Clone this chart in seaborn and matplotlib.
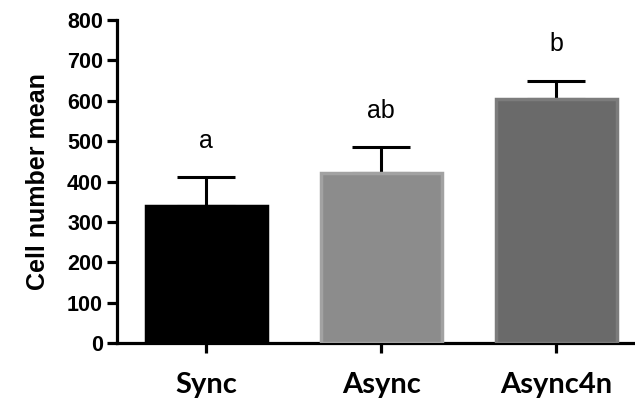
import pandas as pd
import matplotlib
matplotlib.use("Agg")
import matplotlib.pyplot as plt
import seaborn as sns

groups = ["Sync", "Async", "Async4n"]
means = [340, 420, 605]
sems = [72, 65, 45]
letters = ["a", "ab", "b"]
fills = ["#000000", "#8c8c8c", "#6a6a6a"]
edges = ["#000000", "#a2a2a2", "#7c7c7c"]

df = pd.DataFrame({"group": groups, "mean": means, "sem": sems})

sns.set_style("ticks")
plt.rcParams["font.family"] = ["Liberation Sans", "DejaVu Sans"]
plt.rcParams["axes.edgecolor"] = "black"
plt.rcParams["text.color"] = "black"
plt.rcParams["axes.labelcolor"] = "black"
plt.rcParams["xtick.color"] = "black"
plt.rcParams["ytick.color"] = "black"

fig = plt.figure(figsize=(6.35, 4.08), dpi=100)
ax = fig.add_axes([0.184, 0.159, 0.816, 0.792])

sns.barplot(data=df, x="group", y="mean", hue="group", palette=fills,
            errorbar=None, width=0.69, legend=False, ax=ax, zorder=3)
for bar, ec in zip(ax.patches, edges):
    bar.set_edgecolor(ec)
    bar.set_linewidth(2.5)

# one-sided error bars (upper only)
ax.errorbar(range(len(groups)), df["mean"], yerr=[[0] * len(groups), df["sem"]],
            fmt="none", ecolor="black", elinewidth=2.2, capsize=21, capthick=2.2, zorder=2)

for i, (m, s, lab) in enumerate(zip(means, sems, letters)):
    ax.text(i, m + s + 72, lab, ha="center", va="baseline", fontsize=18)

ax.set_ylim(0, 800)
ax.set_xlim(-0.51, 2.45)
ax.set_yticks(range(0, 801, 100))
ax.set_xlabel("")
ax.set_ylabel("Cell number mean", fontsize=18, fontweight="bold", labelpad=12)

sns.despine(ax=ax)
for sp in ["left", "bottom"]:
    ax.spines[sp].set_linewidth(2.3)
ax.tick_params(axis="both", width=2.3, length=7)
ax.tick_params(axis="y", labelsize=15.5, pad=3)
ax.tick_params(axis="x", labelsize=21, pad=14)
for t in ax.get_yticklabels():
    t.set_fontweight("bold")
for t in ax.get_xticklabels():
    t.set_fontweight("bold")
    t.set_family(["Lato", "DejaVu Sans"])

fig.savefig("out.png", dpi=100)
